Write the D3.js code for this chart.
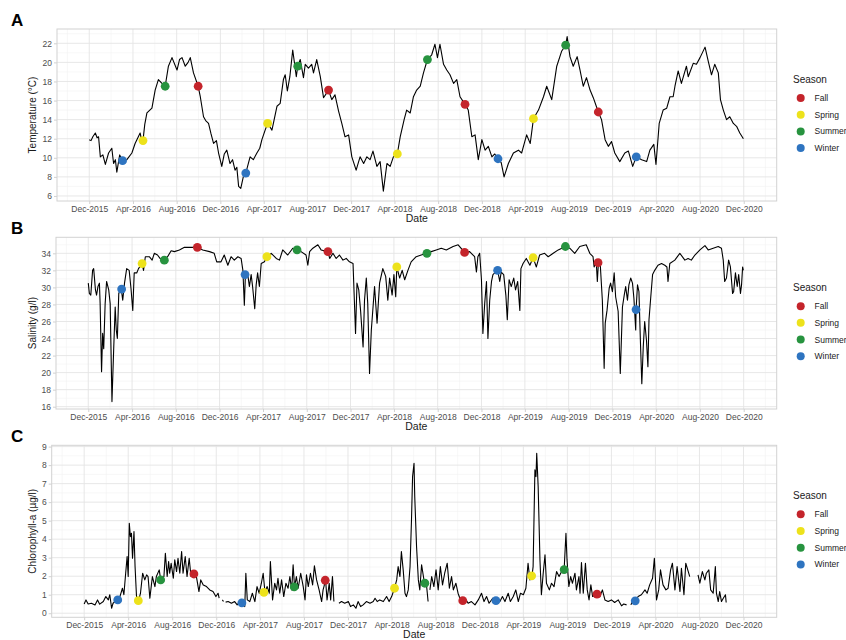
<!DOCTYPE html>
<html><head><meta charset="utf-8">
<script src="https://cdn.jsdelivr.net/npm/d3@7"></script>
<style>body{margin:0;background:#fff;} svg{display:block;font-family:"Liberation Sans",Arial,sans-serif;}</style>
</head><body><svg id="chart" width="846" height="640"></svg>
<script>
// ---- DATA ----
const START_DATE = "2015-12-01";   // day 0 of the series
const xTickDates = ["2015-12-01","2016-04-01","2016-08-01","2016-12-01","2017-04-01","2017-08-01","2017-12-01","2018-04-01","2018-08-01","2018-12-01","2019-04-01","2019-08-01","2019-12-01","2020-04-01","2020-08-01","2020-12-01"];
const seasons = ["Fall","Spring","Summer","Winter"];
const seasonColors = ["#C4242B","#EDE21B","#27933F","#2E74C0"];

// [day since START_DATE, value]
const temperature = [[0,11.9],[5,11.8],[10,12.2],[17,12.6],[22,12.1],[26,12.2],[31,10.1],[38,10.3],[45,9.3],[54,10.5],[63,11.0],[68,9.4],[73,9.8],[77,8.5],[85,10.3],[93,9.7],[105,9.8],[119,10.5],[128,11.5],[142,12.6],[146,11.9],[150,11.8],[155,13.5],[161,14.7],[175,15.2],[184,17.1],[193,18.2],[203,17.8],[212,17.5],[221,19.6],[231,20.5],[245,19.2],[252,20.3],[259,20.5],[268,19.6],[276,20.0],[282,20.5],[291,18.9],[304,17.5],[310,16.4],[319,14.3],[325,13.9],[333,13.6],[340,12.5],[347,11.5],[355,11.8],[361,10.5],[370,9.1],[377,10.4],[384,10.8],[393,9.4],[400,9.8],[407,8.7],[412,9.0],[417,7.0],[423,6.8],[430,8.0],[437,8.4],[449,10.1],[458,9.8],[468,10.5],[476,11.0],[482,11.9],[491,12.9],[498,13.6],[505,13.2],[510,12.9],[524,15.4],[533,15.7],[542,18.2],[547,18.7],[553,17.0],[560,18.5],[568,21.3],[578,18.5],[582,19.6],[589,20.3],[598,18.4],[603,19.8],[612,19.4],[621,19.8],[626,18.9],[635,20.3],[645,18.5],[654,16.3],[663,16.8],[668,17.1],[677,16.1],[686,16.6],[696,14.9],[705,13.6],[714,12.2],[724,12.4],[733,10.1],[745,8.7],[756,10.1],[766,9.4],[775,10.1],[784,9.8],[792,10.7],[803,9.1],[812,9.6],[821,6.5],[831,9.4],[840,9.1],[849,10.1],[860,10.4],[868,12.2],[879,14.0],[886,15.0],[896,14.7],[905,16.4],[914,17.1],[924,17.5],[933,18.9],[944,20.3],[956,20.8],[965,21.9],[972,20.5],[979,21.9],[989,19.8],[998,19.2],[1007,18.7],[1017,17.8],[1026,18.2],[1035,16.4],[1049,15.6],[1058,15.0],[1068,12.2],[1077,12.4],[1086,9.8],[1096,11.9],[1105,10.8],[1114,11.2],[1124,10.1],[1132,10.4],[1141,9.9],[1150,9.5],[1158,8.0],[1170,9.4],[1184,10.5],[1198,10.8],[1207,10.5],[1215,11.6],[1221,12.4],[1231,11.5],[1240,14.1],[1254,15.0],[1268,16.4],[1277,17.5],[1291,16.1],[1305,19.6],[1319,21.2],[1330,21.8],[1334,22.7],[1342,20.6],[1351,19.6],[1362,20.6],[1370,19.2],[1379,17.5],[1388,18.4],[1398,17.1],[1407,16.3],[1421,14.8],[1430,14.0],[1440,11.9],[1449,11.2],[1458,11.7],[1467,10.5],[1481,9.6],[1495,10.5],[1505,10.7],[1517,9.1],[1527,10.1],[1542,9.8],[1556,9.6],[1565,10.8],[1576,11.4],[1582,9.3],[1591,13.6],[1602,15.0],[1612,15.2],[1621,16.4],[1630,16.4],[1635,17.5],[1644,19.1],[1653,17.8],[1667,19.6],[1672,18.5],[1686,19.9],[1695,19.8],[1705,20.5],[1719,21.6],[1728,20.1],[1737,18.7],[1746,19.8],[1756,18.9],[1762,16.1],[1770,15.0],[1779,14.0],[1788,14.3],[1798,13.6],[1807,13.3],[1816,12.6],[1826,12.0]];

const salinity = [[0,30.5],[3,29.3],[7,29.1],[12,32.0],[15,32.2],[20,29.7],[23,29.1],[27,30.1],[31,30.5],[33,28.1],[37,20.1],[40,24.6],[43,22.8],[47,28.1],[51,30.7],[57,29.7],[61,28.1],[66,16.6],[71,23.0],[75,27.7],[78,25.0],[81,24.0],[85,29.3],[92,29.8],[96,28.5],[101,30.5],[107,32.2],[114,32.0],[119,29.9],[124,27.3],[128,31.7],[135,31.7],[140,32.2],[150,32.8],[154,32.0],[159,33.6],[170,33.6],[178,33.2],[184,34.0],[193,33.8],[200,33.4],[212,33.2],[221,33.6],[231,34.3],[240,34.2],[254,34.4],[268,34.7],[286,34.7],[304,34.7],[319,34.4],[338,34.2],[351,34.0],[358,33.0],[370,33.0],[379,33.8],[389,32.6],[398,33.6],[407,33.2],[417,33.6],[426,33.4],[431,32.0],[435,27.9],[438,31.5],[444,31.7],[449,30.1],[454,31.5],[458,30.1],[464,27.5],[468,30.3],[472,31.7],[477,30.1],[482,32.8],[491,33.0],[498,33.6],[510,34.0],[524,33.4],[533,33.2],[542,34.4],[556,33.8],[570,34.6],[582,34.4],[593,34.2],[607,33.8],[612,32.6],[617,34.2],[626,34.6],[640,35.0],[649,34.4],[668,34.2],[673,33.4],[682,34.0],[691,33.4],[700,33.8],[710,33.2],[719,33.4],[728,33.0],[738,32.8],[742,28.1],[745,24.6],[749,30.5],[754,29.7],[759,27.3],[766,23.0],[770,28.5],[775,31.1],[779,28.1],[784,19.9],[789,25.0],[798,30.1],[805,25.8],[812,30.5],[821,32.2],[829,31.3],[835,28.5],[840,31.1],[847,29.1],[852,31.5],[857,28.9],[860,32.4],[868,31.1],[875,32.0],[882,30.9],[891,32.0],[900,33.0],[914,33.6],[928,33.8],[944,34.0],[956,34.2],[970,34.4],[984,34.6],[998,34.4],[1017,34.8],[1031,35.0],[1049,34.1],[1063,34.2],[1077,33.6],[1082,31.8],[1086,33.6],[1091,34.0],[1096,30.9],[1100,24.6],[1105,28.1],[1110,30.7],[1114,24.0],[1119,28.5],[1124,30.7],[1128,31.5],[1133,31.7],[1141,32.0],[1147,30.7],[1151,31.8],[1158,31.5],[1164,29.1],[1168,26.2],[1173,30.9],[1179,30.1],[1186,31.1],[1191,29.7],[1197,30.7],[1203,27.3],[1206,32.2],[1212,32.8],[1221,33.4],[1231,32.6],[1240,33.5],[1249,32.4],[1258,33.8],[1272,34.0],[1282,33.6],[1296,34.0],[1310,34.4],[1330,34.8],[1342,34.6],[1356,34.0],[1370,34.8],[1388,35.0],[1398,34.0],[1407,33.6],[1410,32.4],[1416,33.0],[1419,30.7],[1422,32.9],[1427,32.8],[1433,28.5],[1438,20.5],[1441,25.8],[1446,27.3],[1452,29.9],[1456,30.5],[1461,29.5],[1466,31.7],[1470,28.9],[1477,27.2],[1483,19.9],[1489,27.7],[1494,29.1],[1498,30.1],[1503,28.5],[1507,30.3],[1512,31.1],[1517,30.5],[1521,28.7],[1526,25.0],[1527,27.4],[1531,30.3],[1535,29.5],[1539,23.8],[1543,18.7],[1547,23.0],[1551,26.0],[1556,23.8],[1560,20.7],[1563,26.2],[1568,28.9],[1573,31.5],[1579,32.0],[1588,32.6],[1598,32.8],[1607,32.6],[1613,32.4],[1616,30.7],[1621,32.8],[1635,33.2],[1649,34.0],[1663,33.2],[1672,33.4],[1681,33.2],[1691,33.8],[1705,34.4],[1719,34.9],[1728,34.4],[1742,34.6],[1756,34.8],[1765,34.6],[1770,33.2],[1774,30.7],[1779,31.1],[1785,33.2],[1790,32.4],[1796,29.3],[1799,29.5],[1804,31.7],[1809,30.1],[1813,31.5],[1818,29.3],[1821,30.3],[1824,32.4],[1826,32.0]];

const chlorophyll = [[0,0.5],[5,0.72],[11,0.5],[20,0.54],[30,0.45],[37,0.72],[43,0.49],[53,0.63],[60,0.9],[67,0.72],[71,1.0],[76,0.27],[80,0.54],[91,0.72],[99,0.9],[106,1.35],[110,1.0],[115,2.16],[119,3.06],[122,1.98],[125,4.86],[128,4.14],[131,4.32],[134,2.97],[138,4.41],[141,2.52],[145,0.9],[151,0.68],[156,1.08],[162,2.16],[168,1.8],[173,2.07],[177,1.98],[182,0.81],[189,1.98],[196,1.44],[200,1.98],[208,2.34],[212,1.8],[221,1.98],[225,3.24],[230,1.98],[234,2.79],[237,2.16],[241,2.7],[247,1.89],[251,2.88],[256,2.25],[260,2.97],[265,2.16],[270,3.33],[274,2.16],[280,3.06],[285,1.98],[291,2.97],[296,1.98],[305,2.12],[311,1.98],[318,1.17],[323,1.8],[330,1.53],[339,1.44],[348,1.26],[357,1.17],[365,0.9],[371,1.08],[374,0.81],[378,null],[383,0.72],[386,0.63],[389,null],[392,0.6],[399,0.63],[408,0.54],[417,0.63],[424,0.45],[431,0.63],[439,0.56],[445,0.36],[448,2.16],[452,0.72],[459,0.63],[466,1.08],[473,0.63],[479,1.44],[485,1.08],[491,1.62],[496,2.16],[501,1.13],[507,1.44],[513,1.08],[516,2.79],[522,0.72],[528,1.62],[533,1.26],[537,1.89],[542,1.08],[547,1.8],[553,0.9],[559,1.62],[565,1.35],[570,1.98],[575,1.26],[579,2.61],[583,1.42],[588,1.98],[593,1.35],[600,2.16],[607,1.44],[612,0.72],[616,2.07],[621,1.44],[627,2.16],[633,1.53],[638,2.56],[644,1.8],[651,1.26],[658,0.63],[662,1.26],[669,1.78],[673,0.72],[679,1.62],[683,0.72],[688,1.98],[692,0.63],[698,null],[706,0.54],[713,0.63],[722,0.54],[732,0.63],[738,0.36],[746,0.45],[753,0.27],[759,0.63],[766,0.36],[773,0.45],[782,0.63],[792,0.54],[801,0.63],[806,0.81],[812,0.63],[819,0.72],[829,0.63],[838,0.9],[845,0.63],[852,0.9],[860,1.35],[866,1.8],[870,2.52],[875,1.98],[879,3.33],[884,2.34],[889,1.08],[893,0.9],[898,1.26],[903,2.52],[907,5.04],[910,7.38],[914,8.1],[916,6.3],[921,3.6],[926,1.8],[930,1.26],[935,2.61],[943,1.62],[949,1.44],[953,0.63],[955,null],[958,1.26],[963,1.98],[969,1.44],[975,2.34],[981,1.26],[987,2.52],[993,1.53],[999,2.16],[1006,2.7],[1012,1.35],[1018,1.98],[1023,1.26],[1030,1.62],[1036,1.08],[1041,0.81],[1049,0.68],[1058,0.72],[1064,0.54],[1073,0.63],[1083,0.45],[1092,0.72],[1101,1.08],[1108,0.63],[1115,0.9],[1122,0.54],[1132,0.81],[1143,0.68],[1152,0.63],[1159,0.9],[1166,0.63],[1175,1.08],[1181,0.63],[1189,0.9],[1196,1.26],[1203,0.63],[1209,1.08],[1217,1.0],[1224,1.35],[1230,2.7],[1235,1.8],[1241,2.02],[1244,2.52],[1249,7.74],[1252,7.38],[1254,8.64],[1258,6.84],[1263,2.88],[1267,1.0],[1272,2.16],[1277,3.15],[1281,1.62],[1289,1.26],[1295,1.62],[1302,1.44],[1309,2.25],[1316,1.98],[1323,2.25],[1330,2.36],[1335,4.32],[1338,2.88],[1343,1.44],[1348,1.98],[1353,1.62],[1360,2.16],[1364,1.26],[1371,1.98],[1374,1.08],[1378,2.74],[1383,1.08],[1389,2.7],[1394,1.26],[1399,0.72],[1404,1.53],[1409,0.9],[1421,1.03],[1429,0.9],[1436,1.26],[1443,0.72],[1452,0.63],[1461,0.72],[1470,0.58],[1480,0.72],[1489,0.4],[1495,0.5],[1503,0.45],[1509,null],[1515,0.45],[1521,0.72],[1528,0.67],[1535,0.9],[1544,1.0],[1554,1.26],[1560,1.08],[1567,1.53],[1575,1.89],[1580,2.97],[1586,0.72],[1592,1.26],[1597,2.34],[1604,1.53],[1612,1.26],[1618,1.35],[1625,2.34],[1630,2.7],[1637,1.26],[1643,2.52],[1651,1.17],[1655,2.43],[1662,1.0],[1667,2.7],[1674,2.25],[1678,1.98],[1690,null],[1701,2.07],[1706,1.62],[1713,2.25],[1720,1.8],[1724,2.16],[1731,2.34],[1736,1.26],[1743,1.08],[1749,2.52],[1752,1.08],[1757,0.63],[1761,1.17],[1766,0.63],[1771,0.81],[1777,1.0],[1779,0.58]];

// seasonal points: day, season, temperature, salinity, chlorophyll
const seasonDays   = [93,150,212,304,437,498,582,668,860,944,1049,1141,1240,1330,1421,1527];
const seasonNames  = ["Winter","Spring","Summer","Fall","Winter","Spring","Summer","Fall","Spring","Summer","Fall","Winter","Spring","Summer","Fall","Winter"];
const seasonTemp   = [9.7,11.8,17.5,17.5,8.4,13.6,19.6,17.1,10.4,20.3,15.6,9.9,14.1,21.8,14.8,10.1];
const seasonSal    = [29.8,32.8,33.2,34.7,31.5,33.6,34.4,34.2,32.4,34.0,34.1,32.0,33.5,34.8,32.9,27.4];
const seasonChl    = [0.72,0.68,1.8,2.12,0.56,1.13,1.42,1.78,1.35,1.62,0.68,0.68,2.02,2.36,1.03,0.67];

// ---- DRAW ----
const svg = d3.select("#chart");
const start = d3.utcParse("%Y-%m-%d")(START_DATE);
const toDate = d => d3.utcDay.offset(start, d);
const color = d3.scaleOrdinal().domain(seasons).range(seasonColors);
const xDomain = [d3.utcDay.offset(start, -90), d3.utcDay.offset(start, 1919)];
const majorX = xTickDates.map(d3.utcParse("%Y-%m-%d"));
const fmt = d3.utcFormat("%b-%Y");

const panels = [
  {letter:"A", data:temperature, pts:seasonTemp, left:57, top:29, bottom:201, domain:[5.47,23.5], ticks:d3.range(6,23,2), step:2, title:"Temperature (°C)"},
  {letter:"B", data:salinity, pts:seasonSal, left:56, top:237.3, bottom:409, domain:[15.73,35.88], ticks:d3.range(16,35,2), step:2, title:"Salinity (g/l)"},
  {letter:"C", data:chlorophyll, pts:seasonChl, left:51.7, top:445.3, bottom:617.3, domain:[-0.22,9.07], ticks:d3.range(0,10,1), step:1, title:"Chlorophyll-a (µg/l)"}
];
const RIGHT = 776.7;

panels.forEach(p => {
  const g = svg.append("g");
  const x = d3.scaleUtc().domain(xDomain).range([p.left, RIGHT]);
  const y = d3.scaleLinear().domain(p.domain).range([p.bottom, p.top]);

  // minor grid
  const minorX = [];
  for (let i = -1; i < majorX.length; i++) {
    const a = i < 0 ? d3.utcMonth.offset(majorX[0], -4) : majorX[i];
    const b = i < 0 ? majorX[0] : (i+1 < majorX.length ? majorX[i+1] : d3.utcMonth.offset(majorX[i], 4));
    const m = new Date((+a + +b) / 2);
    if (m >= xDomain[0] && m <= xDomain[1]) minorX.push(m);
  }
  const minorY = [];
  for (let v = p.ticks[0] - p.step/2; v <= p.domain[1]; v += p.step) if (v >= p.domain[0]) minorY.push(v);

  g.selectAll(".mx").data(minorX).join("line")
    .attr("x1", d => x(d)).attr("x2", d => x(d)).attr("y1", p.top).attr("y2", p.bottom)
    .attr("stroke", "#F1F1F1").attr("stroke-width", 0.6);
  g.selectAll(".my").data(minorY).join("line")
    .attr("x1", p.left).attr("x2", RIGHT).attr("y1", d => y(d)).attr("y2", d => y(d))
    .attr("stroke", "#F1F1F1").attr("stroke-width", 0.6);
  g.selectAll(".gx").data(majorX).join("line")
    .attr("x1", d => x(d)).attr("x2", d => x(d)).attr("y1", p.top).attr("y2", p.bottom)
    .attr("stroke", "#E4E4E4").attr("stroke-width", 0.9);
  g.selectAll(".gy").data(p.ticks).join("line")
    .attr("x1", p.left).attr("x2", RIGHT).attr("y1", d => y(d)).attr("y2", d => y(d))
    .attr("stroke", "#E4E4E4").attr("stroke-width", 0.9);

  // axes
  const xAxis = g.append("g").attr("transform", `translate(0,${p.bottom})`)
    .call(d3.axisBottom(x).tickValues(majorX).tickFormat(fmt).tickSize(3).tickPadding(2));
  const yAxis = g.append("g").attr("transform", `translate(${p.left},0)`)
    .call(d3.axisLeft(y).tickValues(p.ticks).tickSize(3).tickPadding(2));
  [xAxis, yAxis].forEach(a => {
    a.select(".domain").remove();
    a.selectAll(".tick line").attr("stroke", "#BDBDBD").attr("stroke-width", 0.7);
    a.selectAll(".tick text").attr("fill", "#4D4D4D").style("font-size", "8.5px").style("font-family", "Liberation Sans, Arial, sans-serif");
  });

  // border
  g.append("rect").attr("x", p.left).attr("y", p.top).attr("width", RIGHT - p.left).attr("height", p.bottom - p.top)
    .attr("fill", "none").attr("stroke", "#D2D2D2").attr("stroke-width", 1);

  // line
  const line = d3.line().defined(d => d[1] !== null).x(d => x(toDate(d[0]))).y(d => y(d[1]));
  g.append("path").datum(p.data).attr("d", line).attr("fill", "none").attr("stroke", "#000").attr("stroke-width", 1.1).attr("stroke-linejoin", "round");

  // seasonal points
  g.selectAll(".pt").data(seasonDays.map((d, i) => ({d, s: seasonNames[i], v: p.pts[i]}))).join("circle")
    .attr("cx", d => x(toDate(d.d))).attr("cy", d => y(d.v)).attr("r", 4.4).attr("fill", d => color(d.s));

  // titles
  g.append("text").attr("x", (p.left + RIGHT) / 2).attr("y", p.bottom + 20.5).attr("text-anchor", "middle")
    .style("font-size", "10.5px").attr("fill", "#1A1A1A").text("Date");
  const cy = (p.top + p.bottom) / 2;
  g.append("text").attr("transform", `translate(36,${cy}) rotate(-90)`).attr("text-anchor", "middle")
    .style("font-size", "10px").attr("fill", "#1A1A1A").text(p.title);
  g.append("text").attr("x", 11).attr("y", p.top - 3).style("font-size", "17px").style("font-weight", "bold")
    .attr("fill", "#000").text(p.letter);

  // legend
  const lg = g.append("g").attr("transform", `translate(793,${cy - 35.5})`);
  lg.append("text").attr("x", 0).attr("y", 3.5).style("font-size", "10px").attr("fill", "#1A1A1A").text("Season");
  seasons.forEach((s, i) => {
    const yy = 18.5 + i * 16.7;
    lg.append("circle").attr("cx", 7.7).attr("cy", yy).attr("r", 4).attr("fill", color(s));
    lg.append("text").attr("x", 21.5).attr("y", yy + 3).style("font-size", "8.5px").attr("fill", "#1A1A1A").text(s);
  });
});
</script></body></html>
